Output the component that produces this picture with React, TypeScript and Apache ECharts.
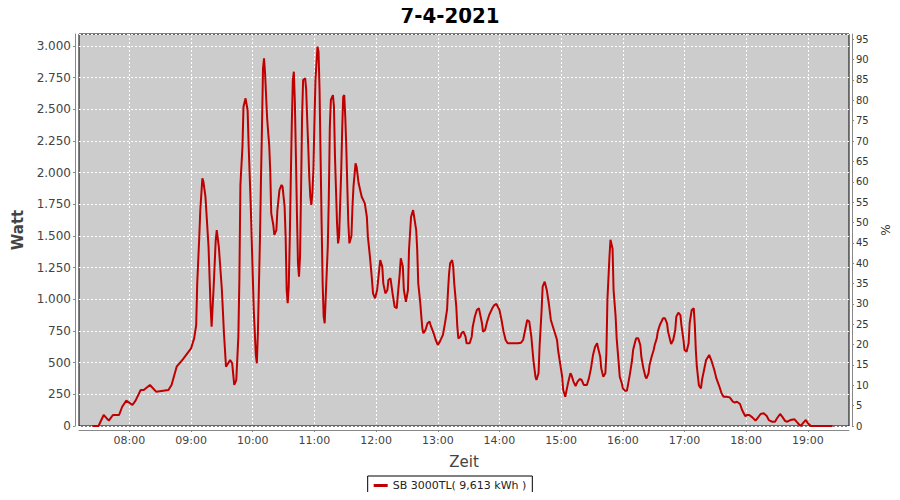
import React, { useEffect, useRef } from "react";
import * as echarts from "echarts";

// Sample times in minutes after midnight, and power in Watt
const times: number[] = [
  444, 450, 455, 460, 464, 470, 473, 477, 483, 486, 491, 494, 500, 506, 518, 521, 526, 532, 540, 543,
  545, 546, 547, 548, 549, 551, 552, 554, 557, 559, 560, 562, 564, 565, 567, 570, 572, 574, 578, 580,
  582, 584, 586, 587, 588, 590, 591, 593, 595, 596, 598, 600, 601, 603, 604, 605, 607, 608, 609, 610,
  611, 612, 614, 616, 617, 618, 620, 621, 623, 624, 626, 628, 629, 631, 632, 633, 634, 635, 636, 637,
  638, 639, 640, 641, 642, 643, 644, 645, 646, 647, 648, 649, 651, 652, 653, 654, 655, 656, 657, 658,
  659, 660, 661, 663, 664, 665, 666, 667, 668, 669, 670, 671, 673, 674, 675, 676, 678, 679, 680, 681,
  682, 683, 684, 686, 687, 688, 689, 690, 691, 692, 693, 694, 696, 697, 698, 700, 701, 703, 706, 709,
  711, 712, 714, 716, 717, 719, 721, 723, 724, 726, 727, 729, 731, 732, 734, 736, 738, 740, 741, 743,
  744, 746, 747, 749, 751, 752, 754, 756, 757, 759, 760, 761, 763, 764, 765, 766, 768, 770, 772, 773,
  776, 778, 780, 782, 785, 787, 789, 790, 791, 792, 794, 795, 796, 798, 799, 800, 802, 803, 805, 807,
  808, 811, 813, 814, 816, 818, 820, 821, 823, 824, 826, 828, 830, 833, 835, 837, 840, 842, 844, 846,
  848, 853, 858, 861, 863, 865, 867, 869, 871, 873, 875, 876, 878, 879, 881, 882, 884, 886, 888, 890,
  892, 894, 896, 897, 899, 901, 902, 904, 905, 907, 909, 910, 912, 914, 916, 918, 920, 922, 925, 927,
  929, 931, 933, 935, 936, 938, 939, 941, 943, 944, 945, 947, 948, 950, 951, 953, 954, 956, 957, 959,
  960, 962, 964, 965, 967, 969, 970, 972, 973, 975, 977, 978, 980, 982, 983, 985, 986, 988, 990, 991,
  993, 994, 996, 998, 999, 1001, 1003, 1004, 1006, 1007, 1009, 1011, 1012, 1014, 1016, 1017, 1019, 1020, 1022, 1024,
  1025, 1027, 1029, 1030, 1031, 1032, 1034, 1036, 1037, 1039, 1041, 1044, 1046, 1049, 1051, 1054, 1056, 1058, 1061, 1064,
  1067, 1069, 1071, 1074, 1076, 1079, 1081, 1083, 1086, 1089, 1091, 1094, 1097, 1100, 1102, 1105, 1108, 1110, 1113, 1115,
  1118, 1120, 1123, 1127, 1129, 1131, 1133, 1135, 1138, 1140, 1143, 1164,
];

const watts: number[] = [
  0, 0, 87, 42, 87, 87, 152, 200, 166, 200, 284, 284, 324, 271, 284, 324, 468, 526, 613, 692,
  797, 1126, 1310, 1495, 1705, 1955, 1929, 1810, 1416, 942, 784, 1100, 1468, 1547, 1416, 1074, 732, 468, 521, 495,
  324, 363, 705, 1153, 1903, 2205, 2521, 2587, 2495, 2218, 1758, 1192, 916, 561, 495, 732, 1468, 1942, 2363, 2824,
  2903, 2785, 2429, 2218, 2021, 1679, 1587, 1508, 1547, 1705, 1863, 1903, 1890, 1731, 1495, 1074, 969, 1100, 1468, 1942,
  2389, 2732, 2797, 2547, 2126, 1679, 1284, 1179, 1337, 1863, 2442, 2732, 2745, 2653, 2416, 2205, 1968, 1810, 1745, 1837,
  2021, 2389, 2732, 2995, 2955, 2653, 2126, 1600, 1126, 863, 811, 1021, 1416, 1810, 2363, 2574, 2613, 2521, 2126, 1863,
  1600, 1442, 1495, 1995, 2337, 2600, 2613, 2442, 2205, 1890, 1600, 1442, 1500, 1731, 1890, 2074, 2047, 1916, 1810, 1758,
  1652, 1495, 1337, 1153, 1047, 1008, 1074, 1232, 1310, 1258, 1126, 1047, 1074, 1153, 1166, 1047, 942, 929, 1021, 1205,
  1324, 1258, 1074, 981, 1074, 1389, 1652, 1705, 1652, 1547, 1389, 1126, 969, 863, 771, 732, 758, 811, 824, 797,
  732, 679, 640, 666, 719, 811, 916, 1074, 1205, 1284, 1310, 1258, 1126, 942, 784, 692, 705, 732, 745, 705,
  653, 653, 705, 784, 863, 916, 929, 890, 811, 745, 758, 824, 876, 929, 955, 963, 916, 837, 745, 679,
  653, 653, 653, 658, 679, 758, 837, 824, 705, 521, 389, 363, 416, 626, 916, 1100, 1139, 1074, 969, 837,
  784, 732, 679, 600, 495, 389, 284, 231, 271, 350, 416, 403, 350, 316, 350, 371, 363, 324, 324, 376,
  455, 561, 626, 653, 613, 547, 455, 389, 416, 574, 995, 1337, 1470, 1400, 1074, 863, 692, 495, 389, 337,
  297, 279, 279, 324, 416, 521, 600, 666, 692, 692, 640, 547, 455, 389, 376, 416, 482, 547, 600, 640,
  692, 745, 797, 831, 850, 850, 811, 745, 679, 647, 679, 758, 863, 895, 876, 797, 679, 600, 587, 653,
  811, 916, 929, 800, 600, 468, 320, 297, 363, 442, 521, 561, 521, 442, 376, 310, 258, 231, 231, 226,
  192, 184, 192, 174, 126, 79, 87, 87, 68, 42, 61, 95, 100, 79, 47, 34, 34, 61, 95, 74,
  39, 34, 47, 53, 34, 16, 0, 21, 47, 21, 0, 0,
];

const seriesName = "SB 3000TL( 9,613 kWh )";
const chartTitle = "7-4-2021";

// Axis range in minutes after midnight (07:11 .. 19:40)
const axisStart = 431;
const axisEnd = 1180;

const pad2 = (n: number) => String(n).padStart(2, "0");
const fmtTime = (m: number) => `${pad2(Math.floor(m / 60))}:${pad2(m % 60)}`;

const categories: string[] = [];
for (let m = axisStart; m <= axisEnd; m++) categories.push(fmtTime(m));

const hourTick = (idx: number) => (axisStart + idx) % 60 === 0;

const fmtWatt = (v: number) =>
  v >= 1000 ? `${Math.floor(v / 1000)}.${String(v % 1000).padStart(3, "0")}` : String(v);

export default function App() {
  const ref = useRef<HTMLDivElement>(null);
  useEffect(() => {
    if (!ref.current) return;
    const chart = echarts.init(ref.current, null, { renderer: "svg" });
    const font = "DejaVu Sans";
    const splitStyle = { color: "#ffffff", width: 1, type: [2, 2] as any };
    chart.setOption({
      animation: false,
      backgroundColor: "#ffffff",
      title: {
        text: chartTitle,
        left: "center",
        top: -1,
        textStyle: {
          fontFamily: "DejaVu Sans Condensed",
          fontWeight: "bold",
          fontSize: 22,
          color: "#000",
        },
      },
      legend: {
        data: [seriesName],
        left: "center",
        top: 476,
        padding: [4, 6, 4, 6],
        borderColor: "#000",
        borderWidth: 1,
        itemWidth: 14,
        itemHeight: 3,
        itemGap: 4,
        icon: "rect",
        textStyle: { fontFamily: font, fontSize: 11, color: "#222" },
      },
      grid: {
        left: 79,
        top: 34,
        width: 770,
        height: 392,
        show: true,
        backgroundColor: "#cccccc",
        borderColor: "#000",
        borderWidth: 1,
      },
      xAxis: {
        type: "category",
        data: categories,
        boundaryGap: false,
        offset: 4,
        name: "Zeit",
        nameLocation: "middle",
        nameGap: 24,
        nameTextStyle: { fontFamily: font, fontSize: 15, color: "#444" },
        axisLine: { show: true, onZero: false, lineStyle: { color: "#888", width: 1 } },
        axisTick: { show: true, interval: hourTick, length: 2, lineStyle: { color: "#888" } },
        axisLabel: {
          interval: hourTick,
          fontFamily: font,
          fontSize: 11,
          color: "#444",
          margin: 5,
        },
        splitLine: { show: true, interval: hourTick, lineStyle: splitStyle },
      },
      yAxis: [
        {
          type: "value",
          position: "left",
          min: 0,
          max: 3094.7,
          interval: 250,
          offset: 4,
          name: "Watt",
          nameLocation: "middle",
          nameGap: 45,
          nameRotate: 90,
          nameTextStyle: { fontFamily: font, fontSize: 15, fontWeight: "bold", color: "#444" },
          axisLine: { show: true, lineStyle: { color: "#888", width: 1 } },
          axisTick: { show: true, length: 2, lineStyle: { color: "#888" } },
          axisLabel: {
            fontFamily: font,
            fontSize: 12,
            color: "#444",
            margin: 4,
            showMaxLabel: false,
            formatter: (v: number) => fmtWatt(Math.round(v)),
          },
          splitLine: { show: true, lineStyle: splitStyle },
        },
        {
          type: "value",
          position: "right",
          min: 0,
          max: 96.3,
          interval: 5,
          offset: 3,
          name: "%",
          nameLocation: "middle",
          nameGap: 27,
          nameRotate: 90,
          nameTextStyle: { fontFamily: font, fontSize: 12, color: "#333" },
          axisLine: { show: true, lineStyle: { color: "#888", width: 1 } },
          axisTick: { show: true, length: 2, lineStyle: { color: "#888" } },
          axisLabel: {
            fontFamily: font,
            fontSize: 10,
            color: "#333",
            margin: 4,
            showMaxLabel: false,
          },
          splitLine: { show: false },
        },
      ],
      series: [
        {
          name: seriesName,
          type: "line",
          yAxisIndex: 0,
          symbol: "none",
          color: "#c00000",
          lineStyle: { color: "#c00000", width: 2 },
          data: times.map((t, i) => [t - axisStart, watts[i]]),
        },
      ],
    });
    return () => chart.dispose();
  }, []);
  return <div ref={ref} style={{ width: 900, height: 500, margin: -8 }} />;
}
